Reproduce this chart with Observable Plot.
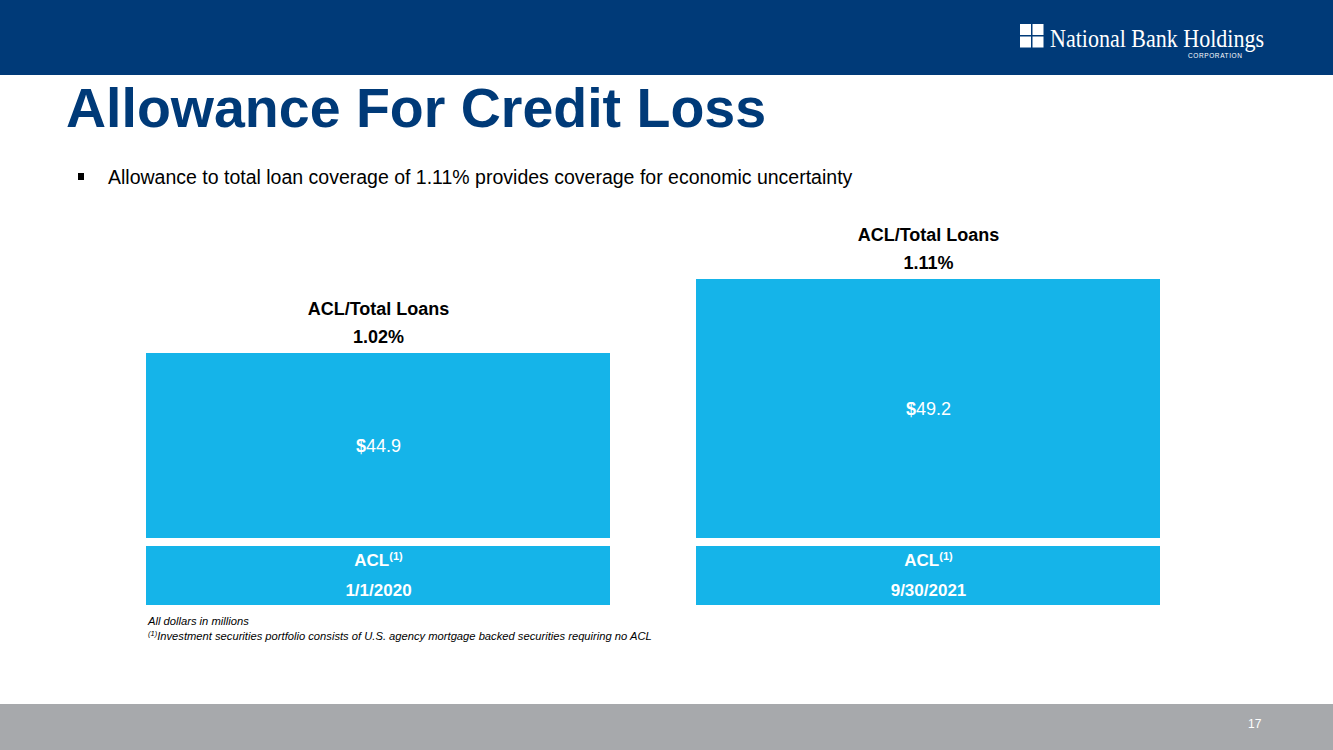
<!DOCTYPE html>
<html>
<head>
<meta charset="utf-8">
<script src="https://cdn.jsdelivr.net/npm/d3@7"></script>
<script src="https://cdn.jsdelivr.net/npm/@observablehq/plot@0.6"></script>
<style>
  html, body { margin: 0; padding: 0; background: #fff; }
  body { width: 1333px; height: 750px; position: relative; overflow: hidden; font-family: "Liberation Sans", Arial, sans-serif; }
  .abs { position: absolute; }
  #header { left: 0; top: 0; width: 1333px; height: 75px; background: #003a78; }
  #footer { left: 0; top: 704px; width: 1333px; height: 46px; background: #a7a9ac; }
  #pagenum { left: 1248px; top: 717px; color: #fff; font-size: 12px; }
  #title { left: 66px; top: 76px; font-size: 55.5px; font-weight: bold; color: #003a78; white-space: nowrap; }
  #bullet { left: 78px; top: 166px; font-size: 19.5px; color: #000; white-space: nowrap; }
  #bullet .sq { display: inline-block; width: 6px; height: 7px; background: #000; vertical-align: middle; margin-right: 24px; position: relative; top: -2px; }
  #chart { left: 0; top: 200px; }
  #boxes { left: 0; top: 546px; }
  #notes { left: 148px; top: 614px; font-size: 11.2px; font-style: italic; color: #000; line-height: 15px; white-space: nowrap; }
  #notes sup { font-size: 7.5px; vertical-align: 4px; line-height: 0; }
  #logo { left: 1020px; top: 20px; }
</style>
</head>
<body>
<div id="header" class="abs"></div>
<svg id="logo" class="abs" width="300" height="46" viewBox="0 0 300 46">
  <rect x="0" y="4" width="11" height="11" fill="#fff"/>
  <rect x="12.5" y="4" width="11" height="11" fill="#fff"/>
  <rect x="0" y="16.5" width="11" height="11" fill="#fff"/>
  <rect x="12.5" y="16.5" width="11" height="11" fill="#fff"/>
  <text x="30" y="27" fill="#fff" font-family="Liberation Serif, DejaVu Serif, serif" font-size="25" textLength="214" lengthAdjust="spacingAndGlyphs">National Bank Holdings</text>
  <text x="168" y="38" fill="#fff" font-family="Liberation Sans, sans-serif" font-size="6.5" letter-spacing="0.6">CORPORATION</text>
</svg>
<div id="title" class="abs">Allowance For Credit Loss</div>
<div id="bullet" class="abs"><span class="sq"></span>Allowance to total loan coverage of 1.11% provides coverage for economic uncertainty</div>
<div id="chart" class="abs"></div>
<div id="boxes" class="abs"></div>
<div id="notes" class="abs">All dollars in millions<br><sup>(1)</sup>Investment securities portfolio consists of U.S. agency mortgage backed securities requiring no ACL</div>
<div id="footer" class="abs"></div>
<div id="pagenum" class="abs">17</div>
<script>
// ---- data ----
const dates = ["1/1/2020", "9/30/2021"];
const aclValues = [44.9, 49.2];
const ratioLabels = ["1.02%", "1.11%"];
const ratioTitle = "ACL/Total Loans";
const boxTitle = "ACL";
const footnoteMark = "(1)";
const currency = "$";

const rows = dates.map((d, i) => ({date: d, value: aclValues[i], ratio: ratioLabels[i]}));
const barColor = "#15b4e9";
const font = "Liberation Sans, Arial, sans-serif";
const yBase = 34.15;

const xScale = {type: "band", domain: dates, range: [146, 1160], paddingInner: 86 / 550, paddingOuter: 0, axis: null};

const chart = Plot.plot({
  width: 1333,
  height: 340,
  margin: 0,
  style: {fontFamily: font, background: "transparent", overflow: "visible"},
  x: xScale,
  y: {domain: [yBase, 49.2], range: [338, 79], axis: null},
  marks: [
    Plot.barY(rows, {x: "date", y1: yBase, y2: "value", fill: barColor, insetLeft: 0, insetRight: 0}),
    Plot.text(rows, {x: "date", y: d => (d.value + yBase) / 2, text: d => d.value.toFixed(1), fill: "#fff", fontSize: 18, className: "vlabel"}),
    Plot.text(rows, {x: "date", y: "value", text: "ratio", dy: -16, fill: "#000", fontSize: 18, fontWeight: "bold"}),
    Plot.text(rows, {x: "date", y: "value", text: () => ratioTitle, dy: -44, fill: "#000", fontSize: 18, fontWeight: "bold"})
  ]
});
// bold currency sign before each value
d3.select(chart).selectAll(".vlabel text").each(function () {
  const t = d3.select(this);
  const v = t.text();
  t.text(null);
  t.append("tspan").attr("font-weight", "bold").text(currency);
  t.append("tspan").text(v);
});
document.getElementById("chart").appendChild(chart);

const boxes = Plot.plot({
  width: 1333,
  height: 59,
  margin: 0,
  style: {fontFamily: font, background: "transparent", overflow: "visible"},
  x: xScale,
  marks: [
    Plot.cell(rows, {x: "date", fill: barColor, inset: 0}),
    Plot.text(rows, {x: "date", text: () => boxTitle, frameAnchor: "middle", dy: -15, fill: "#fff", fontSize: 17, fontWeight: "bold"}),
    Plot.text(rows, {x: "date", text: "date", frameAnchor: "middle", dy: 15, fill: "#fff", fontSize: 17, fontWeight: "bold"})
  ]
});
d3.select(boxes).selectAll("text")
  .filter(function () { return this.textContent === boxTitle; })
  .append("tspan").attr("dy", -6).attr("font-size", 11).attr("font-weight", "bold").text(footnoteMark);
document.getElementById("boxes").appendChild(boxes);
</script>
</body>
</html>
